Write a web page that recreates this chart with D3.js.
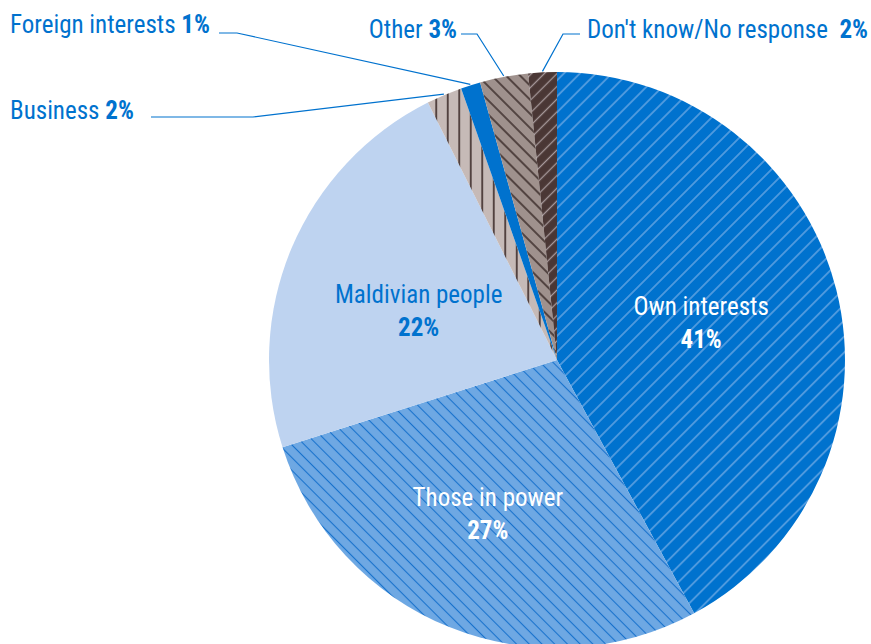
<!DOCTYPE html>
<html>
<head>
<meta charset="utf-8">
<title>Pie</title>
<script src="https://d3js.org/d3.v7.min.js"></script>
<style type="text/css">
	body{ margin:0; background:white; }
	text{ font-family:"Liberation Sans Narrow","Arial Narrow","Roboto Condensed",sans-serif; font-size:25px; }
	.lead{ fill:none; stroke:#0072ce; stroke-width:1.2px; }
</style>
</head>
<body>
<svg id="pie" width="871" height="644"></svg>
<script>
// slice order clockwise from 12 o'clock
var names = ["Own interests","Those in power","Maldivian people","Business","Foreign interests","Other","Don't know/No response "];
var shares = [42.1, 28.0, 22.5, 2.0, 1.1, 2.7, 1.6];   // slice sizes as drawn
var pctLabels = ["41%","27%","22%","2%","1%","3%","2%"];

var fills = ["#0072ce","#6ea8e3","#bed3f0","#c6bab7","#0072ce","#9f918d","#4a3735"];
var hatch = [
	{dir:45, color:"#86b6ea", gap:11.3, w:1.1},
	{dir:-45, color:"#1872cc", gap:9, w:1.1},
	null,
	{dir:0, color:"#4b3a38", gap:11.5, w:1.8},
	null,
	{dir:-45, color:"#3f302e", gap:10, w:1.6},
	{dir:45, color:"#a6989a", gap:9, w:1.3}
];

var svg = d3.select("#pie");
var cx = 557, cy = 360, r = 288;
var defs = svg.append("defs");

hatch.forEach(function(h, i){
	if(!h) return;
	var p = defs.append("pattern")
		.attr("id","hatch"+i)
		.attr("patternUnits","userSpaceOnUse")
		.attr("width", h.gap).attr("height", h.gap)
		.attr("patternTransform","rotate("+h.dir+")");
	p.append("rect").attr("width",h.gap).attr("height",h.gap).attr("fill",fills[i]);
	p.append("line")
		.attr("x1",h.gap/2).attr("y1",0).attr("x2",h.gap/2).attr("y2",h.gap)
		.attr("stroke",h.color).attr("stroke-width", h.w);
});

var pie = d3.pie().sort(null).value(function(d){ return d; });
var arcs = pie(shares);
var arcGen = d3.arc().innerRadius(0).outerRadius(r);

var g = svg.append("g").attr("transform","translate("+cx+","+cy+")");

g.selectAll("path.slice").data(arcs)
	.enter()
	.append("path")
	.attr("class","slice")
	.attr("d", arcGen)
	.attr("fill", function(d,i){ return hatch[i] ? "url(#hatch"+i+")" : fills[i]; });

function pt(angle, rad){
	return [Math.sin(angle)*rad, -Math.cos(angle)*rad];
}

// labels inside the big slices
var inside = [
	{i:0, rf:0.52, dx:-1, dy:0, color:"white"},
	{i:1, rf:0.54, dx:-11, dy:10, color:"white"},
	{i:2, rf:0.51, dx:-3, dy:8, color:"#0072ce"}
];
inside.forEach(function(o){
	var a = arcs[o.i];
	var p = pt((a.startAngle+a.endAngle)/2, r*o.rf);
	var x = p[0]+o.dx, y = p[1]+o.dy;
	var t = g.append("text")
		.attr("text-anchor","middle")
		.attr("fill", o.color);
	t.append("tspan").attr("x",x).attr("y",y-8).text(names[o.i]);
	t.append("tspan").attr("x",x).attr("y",y+25).style("font-weight","bold").text(pctLabels[o.i]);
});

// outside labels with leader lines (screen coords for text and elbow)
var outside = [
	{i:3, tx:10, ty:119, anchor:"start", elbow:[[151,117],[253,117]]},
	{i:4, tx:10, ty:33, anchor:"start", elbow:[[219,33],[237,33]]},
	{i:5, tx:457, ty:38, anchor:"end", elbow:[[461,34],[477,34]]},
	{i:6, tx:868, ty:38, anchor:"end", elbow:[[580,34],[563,34]]}
];
outside.forEach(function(o){
	var a = arcs[o.i];
	var p = pt((a.startAngle+a.endAngle)/2, r+1);
	var pts = o.elbow.concat([[p[0]+cx, p[1]+cy]]);
	svg.append("path").attr("class","lead").attr("d", d3.line()(pts));
	var t = svg.append("text")
		.attr("x",o.tx).attr("y",o.ty)
		.attr("text-anchor",o.anchor)
		.attr("fill","#0072ce")
		.style("white-space","pre");
	t.append("tspan").text(names[o.i]+" ");
	t.append("tspan").style("font-weight","bold").text(pctLabels[o.i]);
});
</script>
</body>
</html>
